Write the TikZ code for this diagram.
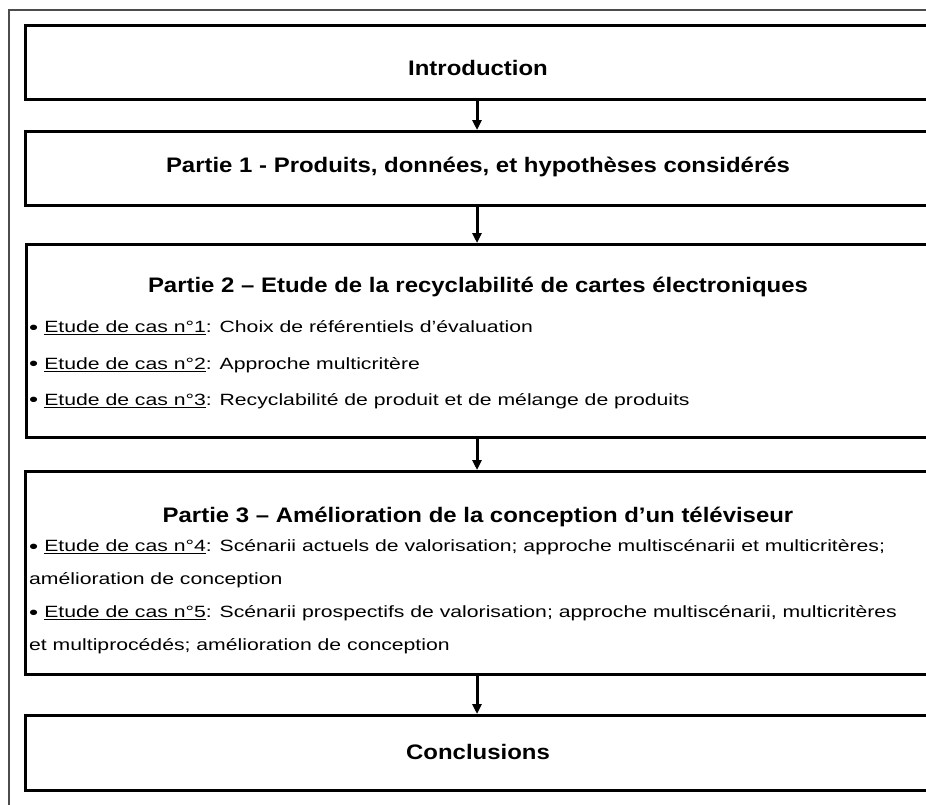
\documentclass[tikz,border=0pt]{standalone}
\usepackage{fontspec}
\setmainfont{Liberation Sans}
\newfontfamily\titlefont{Liberation Sans}[FakeStretch=1.14]
\newfontfamily\itemfont{Liberation Sans}[FakeStretch=1.3]
\usetikzlibrary{arrows.meta,positioning}

\newcommand{\casitem}[1]{\raisebox{-1.5pt}{\fontsize{20}{20}\selectfont\textbullet}\hspace{6pt}\underline{Etude de cas n°#1}}

\begin{document}
\begin{tikzpicture}[x=1pt, y=-1pt,
  partbox/.style={draw, line width=3pt, anchor=north west, inner sep=0pt, minimum width=908pt, minimum height=74pt},
  titletext/.style={font=\titlefont\bfseries\fontsize{21}{25}\selectfont, inner sep=0pt},
  itemtext/.style={font=\itemfont\fontsize{16.3}{33}\selectfont, anchor=west, align=left, inner sep=0pt},
  flow/.style={-{Triangle[length=10pt,width=9pt]}, line width=3pt}]
  \def\xl{24} \def\xc{478} \def\xt{29}
  \useasboundingbox (0,0) rectangle (926,804);
  \clip (0,0) rectangle (926,804);
  % frame round the whole figure, cut at the right and bottom
  \draw[line width=1.2pt, black!70] (9,10) rectangle (990,880);
  % boxes
  \node[partbox] (intro) at (\xl,24) {};
  \node[partbox] (p1) at (\xl,130) {};
  \node[partbox, minimum width=901pt, minimum height=193pt] (p2) at (25,243) {};
  \node[partbox, minimum height=203pt] (p3) at (\xl,470) {};
  \node[partbox, minimum height=75pt] (concl) at (\xl,714) {};
  % titles
  \node[titletext] (introtitle) at (\xc,68) {Introduction};
  \node[titletext] (p1title) at (\xc,167) {Partie 1 - Produits, données, et hypothèses considérés};
  \node[titletext] (p2title) at (\xc,287) {Partie 2 – Etude de la recyclabilité de cartes électroniques};
  \node[titletext] (p3title) at (\xc,517) {Partie 3 – Amélioration de la conception d’un téléviseur};
  \node[titletext] (concltitle) at (\xc,752) {Conclusions};
  % case studies
  \node[itemtext] (cas1) at (\xt,328) {\casitem{1}: Choix de référentiels d’évaluation};
  \node[itemtext] (cas2) at (\xt,365) {\casitem{2}: Approche multicritère};
  \node[itemtext] (cas3) at (\xt,401) {\casitem{3}: Recyclabilité de produit et de mélange de produits};
  \node[itemtext] (cas4) at (\xt,564) {\casitem{4}: Scénarii actuels de valorisation; approche multiscénarii et multicritères;\\amélioration de conception};
  \node[itemtext] (cas5) at (\xt,630) {\casitem{5}: Scénarii prospectifs de valorisation; approche multiscénarii, multicritères\\et multiprocédés; amélioration de conception};
  % arrows
  \coordinate (axis) at (477,0);
  \draw[flow] (intro.south -| axis) -- (p1.north -| axis);
  \draw[flow] (p1.south -| axis) -- (p2.north -| axis);
  \draw[flow] (p2.south -| axis) -- (p3.north -| axis);
  \draw[flow] (p3.south -| axis) -- (concl.north -| axis);
\end{tikzpicture}
\end{document}
